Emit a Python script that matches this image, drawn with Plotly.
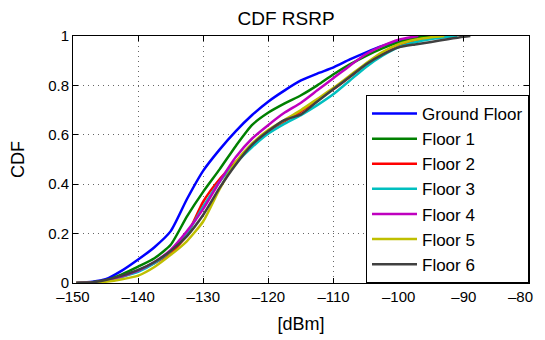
import plotly.graph_objects as go

names = ["Ground Floor", "Floor 1", "Floor 2", "Floor 3", "Floor 4", "Floor 5", "Floor 6"]
colors = ["#0000ff", "#008000", "#ff0000", "#00bfbf", "#bf00bf", "#bfbf00", "#404040"]

x_ground = [-149.5, -147, -145, -142.5, -140, -137.5, -135, -132.5, -130, -127.5, -125, -122.5, -120,
            -117.5, -115, -112.5, -110, -107.5, -105, -102.5, -100, -97.5, -95.5]
y_ground = [0, 0.005, 0.015, 0.05, 0.095, 0.145, 0.21, 0.34, 0.455, 0.54, 0.615, 0.68, 0.735,
            0.78, 0.82, 0.848, 0.873, 0.905, 0.934, 0.96, 0.98, 0.995, 1.0]

x_f1 = [-149.5, -147, -145, -142.5, -140, -137.5, -135, -132.5, -130, -127.5, -125, -122.5, -120,
        -117.5, -115, -112.5, -110, -107.5, -105, -102.5, -100, -97.5, -95]
y_f1 = [0, 0.003, 0.01, 0.035, 0.066, 0.1, 0.155, 0.27, 0.37, 0.46, 0.555, 0.64, 0.69,
        0.727, 0.76, 0.8, 0.845, 0.885, 0.92, 0.95, 0.974, 0.992, 1.0]

x_f2 = [-149.5, -147, -145, -142.5, -140, -137.5, -135, -132.5, -130, -127.5, -125, -122.5, -120,
        -117.5, -115, -112.5, -110, -107.5, -105, -102.5, -100, -97.5, -95, -92]
y_f2 = [0, 0.002, 0.008, 0.025, 0.05, 0.08, 0.12, 0.195, 0.33, 0.42, 0.49, 0.56, 0.615,
        0.655, 0.695, 0.74, 0.785, 0.835, 0.885, 0.925, 0.958, 0.98, 0.993, 1.0]

x_f3 = [-149.5, -147, -145, -142.5, -140, -137.5, -135, -132.5, -130, -127.5, -125, -122.5, -120,
        -117.5, -115, -112.5, -110, -107.5, -105, -102.5, -100, -97.5, -95, -91]
y_f3 = [0, 0.002, 0.008, 0.025, 0.045, 0.08, 0.13, 0.2, 0.31, 0.41, 0.485, 0.55, 0.605,
        0.645, 0.68, 0.72, 0.765, 0.82, 0.875, 0.92, 0.955, 0.975, 0.988, 1.0]

x_f4 = [-149.5, -147, -145, -142.5, -140, -137.5, -135, -132.5, -130, -127.5, -125, -122.5, -120,
        -117.5, -115, -112.5, -110, -107.5, -105, -102.5, -100, -97.5, -97]
y_f4 = [0, 0.002, 0.008, 0.027, 0.05, 0.085, 0.134, 0.21, 0.3, 0.41, 0.51, 0.585, 0.64,
        0.69, 0.73, 0.78, 0.83, 0.88, 0.927, 0.96, 0.985, 0.998, 1.0]

x_f5 = [-149.5, -147, -145, -142.5, -140, -137.5, -135, -132.5, -130, -127.5, -125, -122.5, -120,
        -117.5, -115, -112.5, -110, -107.5, -105, -102.5, -100, -97.5, -95, -93]
y_f5 = [0, 0.001, 0.005, 0.015, 0.03, 0.065, 0.114, 0.17, 0.25, 0.38, 0.49, 0.565, 0.62,
        0.66, 0.7, 0.745, 0.79, 0.84, 0.89, 0.935, 0.967, 0.985, 0.995, 1.0]

x_f6 = [-149.5, -147, -145, -142.5, -140, -137.5, -135, -132.5, -130, -127.5, -125, -122.5, -120,
        -117.5, -115, -112.5, -110, -107.5, -105, -102.5, -100, -97.5, -95, -92.5, -90, -89]
y_f6 = [0, 0.003, 0.012, 0.03, 0.053, 0.085, 0.13, 0.19, 0.276, 0.385, 0.48, 0.56, 0.615,
        0.66, 0.683, 0.735, 0.785, 0.835, 0.886, 0.925, 0.954, 0.966, 0.976, 0.987, 0.997, 1.0]

xs = [x_ground, x_f1, x_f2, x_f3, x_f4, x_f5, x_f6]
ys = [y_ground, y_f1, y_f2, y_f3, y_f4, y_f5, y_f6]

x_ticks = [-150, -140, -130, -120, -110, -100, -90, -80]
y_ticks = [0, 0.2, 0.4, 0.6, 0.8, 1]

fig = go.Figure()
for n, c, x, y in zip(names, colors, xs, ys):
    fig.add_trace(go.Scatter(x=x, y=y, mode="lines", name=n,
                             line=dict(color=c, width=2.5, shape="spline", smoothing=0.6)))

font = "Liberation Sans, Arial, sans-serif"
axis_common = dict(showline=True, linecolor="black", linewidth=1, mirror="ticks",
                   ticks="inside", ticklen=5, tickcolor="black", automargin=False,
                   showgrid=True, gridcolor="#666666", griddash="1px,4px", gridwidth=1,
                   zeroline=False, tickfont=dict(size=15, color="black", family=font))

def fmt(v):
    return str(v).replace("-", "\u2013")

# last x tick label is pulled inward (as in the reference) via an annotation at its tick
x_ticktext = [fmt(v) for v in x_ticks[:-1]] + [""]

W, H = 537, 332
fig.update_layout(
    width=W, height=H,
    margin=dict(l=65, r=16, t=28, b=57),
    paper_bgcolor="white", plot_bgcolor="white",
    title=dict(text="CDF RSRP", x=278 / W, xanchor="center", y=1 - 10 / H, yanchor="middle",
               font=dict(size=19, color="black", family=font)),
    xaxis=dict(range=[-150, -80], tickvals=x_ticks, ticktext=x_ticktext,
               title=dict(text="[dBm]", font=dict(size=18, color="black", family=font), standoff=13),
               **axis_common),
    yaxis=dict(range=[0, 1], tickvals=y_ticks, ticktext=["0", "0.2", "0.4", "0.6", "0.8", "1"],
               title=dict(text="CDF", font=dict(size=18, color="black", family=font), standoff=20),
               **axis_common),
    legend=dict(x=1, y=0, xanchor="right", yanchor="bottom", bgcolor="white",
                bordercolor="black", borderwidth=1, itemwidth=45,
                font=dict(size=17, color="black", family=font), tracegroupgap=0),
    showlegend=True,
    annotations=[dict(x=x_ticks[-1], xref="x", y=0, yref="paper", yanchor="top", xanchor="center",
                      xshift=-9, yshift=-3, text=fmt(x_ticks[-1]), showarrow=False,
                      font=dict(size=15, color="black", family=font))],
)

fig.write_html("out.html")
